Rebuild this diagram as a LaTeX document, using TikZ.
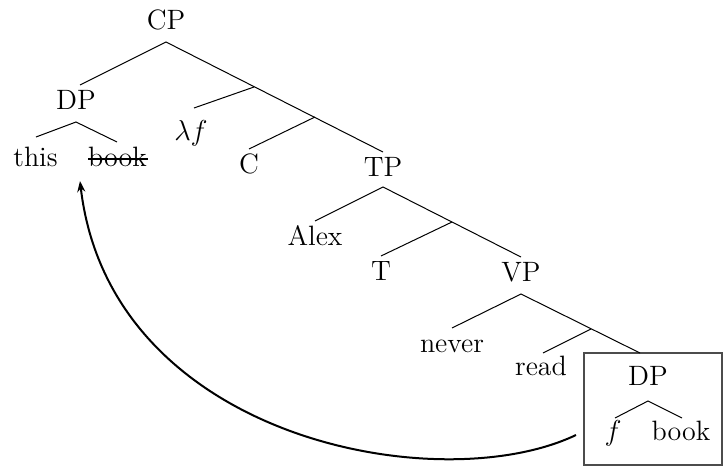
\documentclass[tikz,border=0pt]{standalone}
\usetikzlibrary{arrows.meta}
\begin{document}
\begin{tikzpicture}[x=0.5pt,y=-0.5pt,
  lbl/.style={anchor=base,inner sep=0pt,font=\fontsize{14}{17}\selectfont},
  br/.style={line width=0.5pt},
  boxline/.style={draw=black!70,line width=0.6pt},
  mv/.style={line width=1pt,-{Stealth[length=5.5pt,width=4pt]}}]
\useasboundingbox (0,0) rectangle (723,466);
% labels
\node[lbl] (CP) at (166,29) {CP};
\node[lbl] (DP1) at (76,109) {DP};
\node[lbl] (this) at (35.5,166) {this};
\node[lbl] (book1) at (117.5,166) {book};
\node[lbl] (lam) at (191,140) {$\lambda f$};
\node[lbl] (C) at (249,173) {C};
\node[lbl] (TP) at (383,176) {TP};
\node[lbl] (Alex) at (315,245) {Alex};
\node[lbl] (T) at (381,280) {T};
\node[lbl] (VP) at (521,281) {VP};
\node[lbl] (never) at (452,352) {never};
\node[lbl] (read) at (541,375) {read};
\node[boxline,draw,minimum width=69pt,minimum height=56pt,inner sep=0pt] (box) at (653,409) {};
\node[lbl] (DP2) at (648,385) {DP};
\node[lbl] (f) at (613,440) {$f$};
\node[lbl] (book2) at (681,440) {book};
% branch points
\coordinate (cpA) at (166,42);
\coordinate (cpL) at (80,85);
\coordinate (b1) at (254,87);
\coordinate (lamE) at (194,108);
\coordinate (b2) at (315,117);
\coordinate (cE) at (249,149);
\coordinate (tpE) at (383,152);
\coordinate (dpA) at (76,122);
\coordinate (thisE) at (36,137);
\coordinate (bookE) at (117,142);
\coordinate (tpA) at (383,187);
\coordinate (alexE) at (315,221);
\coordinate (b3) at (452,222);
\coordinate (tE) at (381,256);
\coordinate (vpE) at (521,257);
\coordinate (vpA) at (521,294);
\coordinate (neverE) at (452,328);
\coordinate (b4) at (591,329);
\coordinate (readE) at (543,353);
\coordinate (dpE) at (640,353);
\coordinate (dp2A) at (648,401);
\coordinate (fE) at (615,418);
\coordinate (bkE) at (682,418);
\coordinate (sL) at (88,159);
\coordinate (sR) at (148,159);
\coordinate (arrS) at (576,435);
\coordinate (arrT) at (80,181);
% branches
\draw[br] (cpL) -- (cpA) -- (tpE);
\draw[br] (b1) -- (lamE);
\draw[br] (b2) -- (cE);
\draw[br] (thisE) -- (dpA) -- (bookE);
\draw[br] (alexE) -- (tpA) -- (vpE);
\draw[br] (b3) -- (tE);
\draw[br] (neverE) -- (vpA) -- (dpE);
\draw[br] (b4) -- (readE);
\draw[br] (fE) -- (dp2A) -- (bkE);
% strike-through
\draw[line width=0.6pt] (sL) -- (sR);
% movement arrow
\draw[mv] (arrS) .. controls (440,500) and (110,440) .. (arrT);
\end{tikzpicture}
\end{document}
